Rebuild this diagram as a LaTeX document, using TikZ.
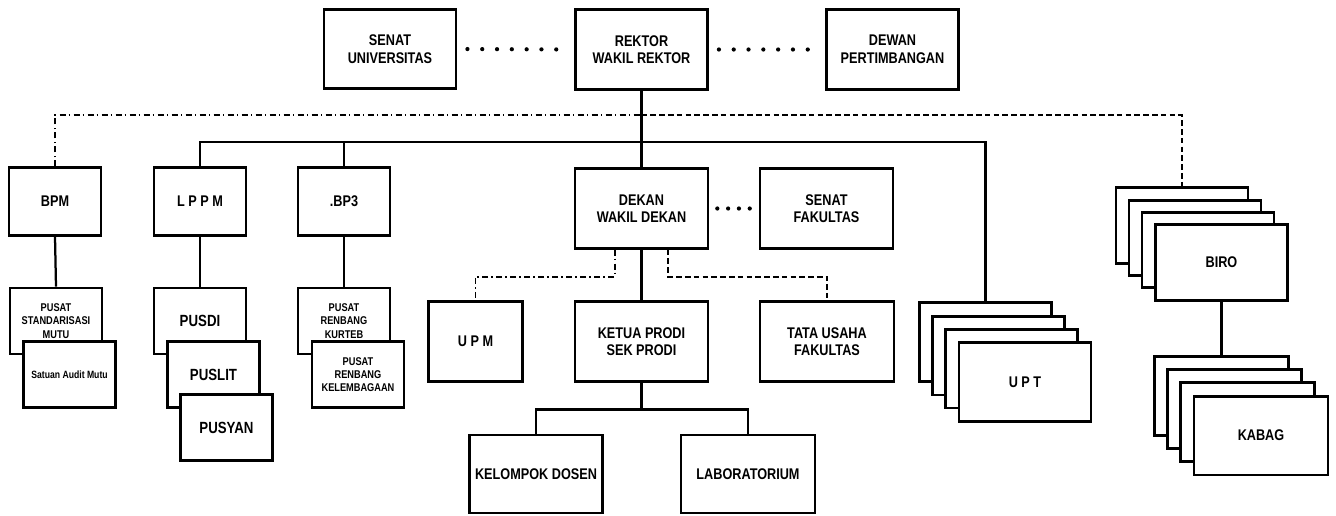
\documentclass[tikz,border=0pt]{standalone}
\usepackage{fontspec}
\setmainfont{Liberation Sans}[FakeStretch=0.82]
\usetikzlibrary{positioning}

\begin{document}
\begin{tikzpicture}[x=0.025cm, y=-0.025cm, box/.style={rectangle, draw=black, line width=2pt, fill=white, align=center, inner sep=1pt, font=\bfseries\fontsize{11}{12.5}\selectfont}, topbox/.style={box, minimum width=3.3cm, minimum height=1.98cm}, unitbox/.style={box, minimum width=2.3cm, minimum height=1.68cm}, subbox/.style={box, minimum width=2.3cm, minimum height=1.65cm, font=\bfseries\fontsize{8}{9.5}\selectfont}, subbig/.style={subbox, font=\bfseries\fontsize{11.5}{13}\selectfont}, fakbox/.style={box, minimum width=3.32cm, minimum height=1.98cm}, stackbox/.style={box, minimum width=3.3cm, minimum height=1.97cm}, conn/.style={line width=1.6pt}, dotline/.style={line width=3pt, line cap=round, dash pattern=on 0pt off 0.37cm, shorten <=0.25cm, shorten >=0.2cm}, dashdotline/.style={line width=1.4pt, dash pattern=on 0.15cm off 0.08cm on 0.04cm off 0.08cm}, dashline/.style={line width=1.4pt, dash pattern=on 0.14cm off 0.08cm}]

    \useasboundingbox (0,0) rectangle (1336,515);

    %Nodes
    \node[topbox](senatU) at (390,49){SENAT\\UNIVERSITAS};
    \node[topbox](rektor) at (641.5,49.5){REKTOR\\WAKIL REKTOR};
    \node[topbox](dewan) at (892.5,49.5){DEWAN\\PERTIMBANGAN};

    \node[unitbox](bpm) at (55,201.5){BPM};
    \node[unitbox](lppm) at (200,201.5){L P P M};
    \node[unitbox](bp3) at (344,201.5){.BP3};

    \node[subbox](pusatStd) at (56,321){PUSAT\\STANDARISASI\\MUTU};
    \node[subbox, font=\bfseries\fontsize{7.5}{9}\selectfont](satuan) at (69.5,374.5){Satuan Audit Mutu};
    \node[subbig](pusdi) at (200,321){PUSDI};
    \node[subbig](puslit) at (213.5,374.5){PUSLIT};
    \node[subbig](pusyan) at (226.5,427.5){PUSYAN};
    \node[subbox](kurteb) at (344,321){PUSAT\\RENBANG\\KURTEB};
    \node[subbox](kelembagaan) at (358,374.5){PUSAT\\RENBANG\\KELEMBAGAAN};

    \node[fakbox](dekan) at (641.5,208.5){DEKAN\\WAKIL DEKAN};
    \node[fakbox](senatF) at (826.5,208.5){SENAT\\FAKULTAS};
    \node[unitbox, minimum width=2.33cm, minimum height=1.98cm](upm) at (475.5,341.5){U P M};
    \node[fakbox](ketua) at (641.5,341.5){KETUA PRODI\\SEK PRODI};
    \node[fakbox, minimum width=3.35cm](tata) at (827,341.5){TATA USAHA\\FAKULTAS};
    \node[fakbox, minimum height=1.95cm](kelompok) at (536,474){KELOMPOK DOSEN};
    \node[fakbox, minimum width=3.35cm, minimum height=1.95cm](lab) at (748,474){LABORATORIUM};

    \node[stackbox](upt1) at (985.5,342){};
    \node[stackbox](upt2) at (998.5,355.5){};
    \node[stackbox](upt3) at (1011.5,368.5){};
    \node[stackbox](upt) at (1025,382){U P T};

    \node[stackbox, minimum height=1.88cm](biro1) at (1182,225.5){};
    \node[stackbox, minimum height=1.88cm](biro2) at (1195,238){};
    \node[stackbox, minimum height=1.88cm](biro3) at (1208,250){};
    \node[stackbox, minimum height=1.88cm](biro) at (1221.5,262.5){BIRO};

    \node[stackbox, minimum width=3.35cm](kabag1) at (1221.5,396){};
    \node[stackbox, minimum width=3.35cm](kabag2) at (1234.5,409){};
    \node[stackbox, minimum width=3.35cm](kabag3) at (1247.5,422){};
    \node[stackbox, minimum width=3.35cm](kabag) at (1261,435.5){KABAG};

    \coordinate(busT) at (641.5,115);
    \coordinate(busS) at (641.5,142);

    %Lines
    \draw[dotline] (senatU.east) -- (rektor.west);
    \draw[dotline] (rektor.east) -- (dewan.west);
    \draw[dotline, dash pattern=on 0pt off 0.27cm, shorten <=0.2cm, shorten >=0.12cm] (dekan.east) -- (senatF.west);

    \draw[conn] (rektor.south) -- (dekan.north);
    \draw[conn] (lppm.north) |- (busS) -| (upt1.north);
    \draw[conn] (bp3.north) -- (bp3.north |- busS);
    \draw[dashdotline] (bpm.north) |- (busT);
    \draw[dashline] (busT) -| (biro1.north);

    \draw[conn] (bpm.south) -- (pusatStd.north);
    \draw[conn] (lppm.south) -- (pusdi.north);
    \draw[conn] (bp3.south) -- (kurteb.north);

    \draw[dashdotline] ([xshift=-0.66cm]dekan.south) -- ++(0,27) -| (upm.north);
    \draw[dashline] ([xshift=0.66cm]dekan.south) -- ++(0,27) -| (tata.north);
    \draw[conn] (dekan.south) -- (ketua.north);
    \draw[conn] (ketua.south) -- ++(0,27) -| (kelompok.north);
    \draw[conn] (ketua.south) -- ++(0,27) -| (lab.north);

    \draw[conn] (biro.south) -- (kabag1.north);

\end{tikzpicture}
\end{document}
